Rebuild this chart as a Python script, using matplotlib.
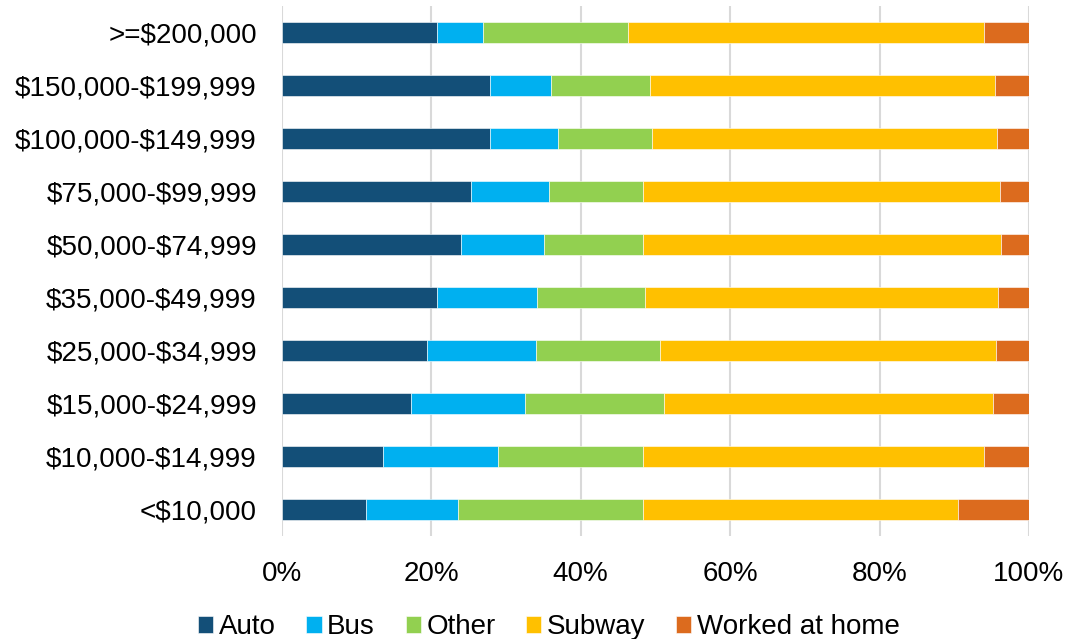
import matplotlib.pyplot as plt
from matplotlib.ticker import PercentFormatter

plt.rcParams['font.family'] = ['Liberation Sans', 'DejaVu Sans']
plt.rcParams['text.parse_math'] = False

# categories bottom -> top
incomes = ['<$10,000', '$10,000-$14,999', '$15,000-$24,999', '$25,000-$34,999',
           '$35,000-$49,999', '$50,000-$74,999', '$75,000-$99,999',
           '$100,000-$149,999', '$150,000-$199,999', '>=$200,000']

auto   = [11.2, 13.5, 17.3, 19.4, 20.7, 24.0, 25.3, 27.8, 27.8, 20.7]
bus    = [12.4, 15.4, 15.2, 14.6, 13.4, 11.1, 10.4,  9.1,  8.2,  6.2]
other  = [24.7, 19.4, 18.6, 16.6, 14.5, 13.2, 12.6, 12.6, 13.3, 19.4]
subway = [42.2, 45.7, 44.1, 45.0, 47.3, 48.0, 47.8, 46.2, 46.1, 47.7]
home   = [ 9.5,  6.0,  4.8,  4.4,  4.1,  3.7,  3.9,  4.3,  4.6,  6.0]

series = [('Auto', auto, '#134F78'), ('Bus', bus, '#00B0F0'),
          ('Other', other, '#92D050'), ('Subway', subway, '#FFC000'),
          ('Worked at home', home, '#DC6B1E')]

fig = plt.figure(figsize=(10.68, 6.39), dpi=100)
ax = fig.add_axes([0.264, 0.161, 0.6994, 0.8294])

left = [0.0] * len(incomes)
for name, vals, col in series:
    ax.barh(incomes, vals, left=left, height=0.4, color=col,
            edgecolor='white', linewidth=0.4, label=name, zorder=3)
    left = [a + b for a, b in zip(left, vals)]

ax.set_xlim(0, 100)
ax.set_ylim(-0.5, len(incomes) - 0.5)
ax.set_xticks(range(0, 101, 20))
ax.xaxis.set_major_formatter(PercentFormatter(decimals=0))
ax.grid(axis='x', color='#d9d9d9', linewidth=1.5, zorder=0)
for s in ax.spines.values():
    s.set_visible(False)
ax.tick_params(axis='both', length=0, labelsize=20)
ax.tick_params(axis='x', pad=18)
ax.tick_params(axis='y', pad=18)

fig.legend(loc='center', bbox_to_anchor=(0.514, 0.018), ncol=5, frameon=False,
           fontsize=20, handlelength=0.55, handleheight=0.55, handletextpad=0.2,
           columnspacing=1.1, borderaxespad=0)

fig.savefig('out.png', dpi=100)
